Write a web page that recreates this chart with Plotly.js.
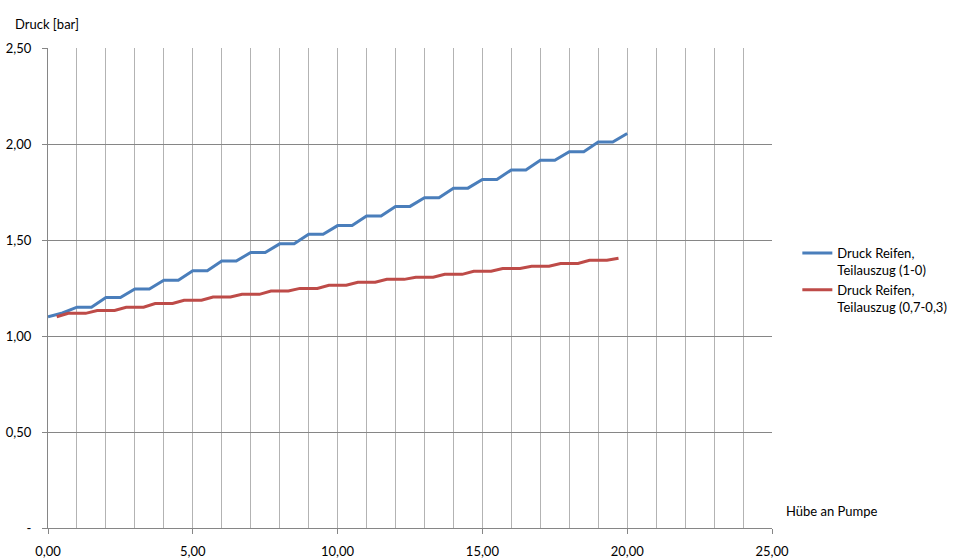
<!DOCTYPE html>
<html>
<head>
<meta charset="utf-8">
<script src="https://cdn.plot.ly/plotly-3.0.1.min.js"></script>
<style>html,body{margin:0;padding:0;background:#fff;}#chart{width:953px;height:559px;}</style>
</head>
<body>
<div id="chart"></div>
<script>
const blueName = 'Druck Reifen,<br>Teilauszug (1-0)';
const redName = 'Druck Reifen,<br>Teilauszug (0,7-0,3)';
const blueX = [0,0.5,1,1.5,2,2.5,3,3.5,4,4.5,5,5.5,6,6.5,7,7.5,8,8.5,9,9.5,10,10.5,11,11.5,12,12.5,13,13.5,14,14.5,15,15.5,16,16.5,17,17.5,18,18.5,19,19.5,20];
const blueY = [1.10,1.12,1.15,1.15,1.20,1.20,1.245,1.245,1.29,1.29,1.34,1.34,1.39,1.39,1.435,1.435,1.48,1.48,1.53,1.53,1.575,1.575,1.625,1.625,1.675,1.675,1.72,1.72,1.77,1.77,1.815,1.815,1.865,1.865,1.915,1.915,1.96,1.96,2.01,2.01,2.055];
const redX = [0.3,0.7,1.3,1.7,2.3,2.7,3.3,3.7,4.3,4.7,5.3,5.7,6.3,6.7,7.3,7.7,8.3,8.7,9.3,9.7,10.3,10.7,11.3,11.7,12.3,12.7,13.3,13.7,14.3,14.7,15.3,15.7,16.3,16.7,17.3,17.7,18.3,18.7,19.3,19.7];
const redY = [1.10,1.118,1.118,1.133,1.133,1.150,1.150,1.169,1.169,1.186,1.186,1.203,1.203,1.217,1.217,1.234,1.234,1.248,1.248,1.264,1.264,1.280,1.280,1.295,1.295,1.306,1.306,1.321,1.321,1.337,1.337,1.352,1.352,1.363,1.363,1.378,1.378,1.394,1.394,1.405];
const yTickVals = [0,0.5,1,1.5,2,2.5];
const yTickText = ['-','0,50','1,00','1,50','2,00','2,50'];
const xTickVals = [0,5,10,15,20,25];
const xTickText = ['0,00','5,00','10,00','15,00','20,00','25,00'];
const yTitle = 'Druck [bar]';
const xTitle = 'Hübe an Pumpe';

const FONT = 'Lato, "Open Sans", sans-serif';
const traces = [
  {x: blueX, y: blueY, name: blueName, type: 'scatter', mode: 'lines',
   line: {color: '#4A7EBB', width: 3}},
  {x: redX, y: redY, name: redName, type: 'scatter', mode: 'lines',
   line: {color: '#BE4B48', width: 3}}
];
const layout = {
  width: 953, height: 559,
  margin: {l: 48, r: 181, t: 48, b: 31, autoexpand: false},
  paper_bgcolor: '#fff', plot_bgcolor: '#fff',
  font: {family: FONT, size: 13, color: '#000'},
  showlegend: true,
  legend: {x: 1.035, xanchor: 'left', y: 0.604, yanchor: 'top', valign: 'top',
           font: {family: FONT, size: 13, color: '#000'}, bgcolor: 'rgba(0,0,0,0)'},
  xaxis: {range: [0, 25], tickvals: xTickVals, ticktext: xTickText,
          showgrid: true, gridcolor: '#B3B3B3', gridwidth: 1,
          minor: {dtick: 1, showgrid: true, gridcolor: '#B3B3B3', gridwidth: 1, ticks: ''},
          showline: true, linecolor: '#868686', linewidth: 1,
          ticks: 'outside', ticklen: 5, tickcolor: '#868686', ticklabelstandoff: 6,
          zeroline: false, fixedrange: true, automargin: false},
  yaxis: {range: [0, 2.5], tickvals: yTickVals, ticktext: yTickText,
          showgrid: true, gridcolor: '#868686', gridwidth: 1,
          showline: true, linecolor: '#868686', linewidth: 1,
          ticks: 'outside', ticklen: 5, tickcolor: '#868686', ticklabelstandoff: 8,
          zeroline: false, fixedrange: true, automargin: false},
  annotations: [
    {text: yTitle, xref: 'paper', yref: 'paper', x: -0.0483, y: 1.05,
     xanchor: 'left', yanchor: 'middle', showarrow: false, font: {family: FONT, size: 13, color: '#000'}},
    {text: xTitle, xref: 'paper', yref: 'paper', x: 1.016, y: 0.0354,
     xanchor: 'left', yanchor: 'middle', showarrow: false, font: {family: FONT, size: 13, color: '#000'}}
  ]
};
Plotly.newPlot('chart', traces, layout, {displayModeBar: false, staticPlot: true});
</script>
</body>
</html>
